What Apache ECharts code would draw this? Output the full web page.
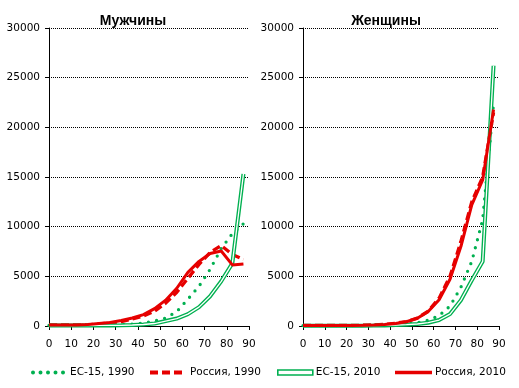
<!DOCTYPE html>
<html>
<head>
<meta charset="utf-8">
<script src="https://cdn.jsdelivr.net/npm/echarts@6/dist/echarts.min.js"></script>
<style>
html,body{margin:0;padding:0;background:#fff;}
#chart{width:519px;height:388px;}
</style>
</head>
<body>
<div id="chart"></div>
<script>
// Age points (midpoints of age groups)
var ages = [0, 2.5, 7.5, 12.5, 17.5, 22.5, 27.5, 32.5, 37.5, 42.5, 47.5, 52.5, 57.5, 62.5, 67.5, 72.5, 77.5, 82.5, 87.5];
// Men
var eu1990M = [60, 60, 60, 60, 60, 80, 90, 120, 180, 300, 500, 800, 1450, 2700, 4000, 5700, 7800, 9300, 10300];
var ru1990M = [100, 100, 100, 100, 120, 200, 300, 450, 700, 1000, 1500, 2300, 3400, 4800, 6200, 7400, 8100, 7200, 6700];
var eu2010M = [50, 50, 50, 50, 50, 60, 60, 70, 100, 150, 250, 500, 750, 1200, 1900, 3000, 4500, 6300, 15300];
var ru2010M = [100, 100, 100, 100, 150, 250, 350, 550, 800, 1150, 1750, 2600, 3800, 5400, 6500, 7300, 7550, 6150, 6250];
// Women
var eu1990F = [40, 40, 40, 40, 40, 40, 40, 60, 90, 140, 220, 330, 580, 1050, 2000, 3900, 6500, 10700, 22400];
var ru1990F = [60, 60, 60, 60, 60, 60, 80, 110, 170, 280, 450, 800, 1500, 2800, 5000, 8500, 12500, 15000, 21500];
var eu2010F = [30, 30, 30, 30, 30, 30, 30, 40, 60, 90, 130, 200, 330, 600, 1200, 2600, 4600, 6500, 26200];
var ru2010F = [60, 60, 60, 60, 60, 60, 80, 110, 160, 260, 430, 780, 1450, 2650, 4700, 8000, 12200, 14700, 21800];

var titles = ['Мужчины', 'Женщины'];
var names = ['ЕС-15, 1990', 'Россия, 1990', 'ЕС-15, 2010', 'Россия, 2010'];
var xTicks = {min: 0, max: 90, interval: 10};
var yTicks = {min: 0, max: 30000, interval: 5000};

var GREEN = '#00b050';
var RED = '#e60000';
var FONT = 'DejaVu Sans';

function pairs(vals) {
  return ages.map(function (a, i) { return [a, vals[i]]; });
}

var panels = [
  {eu90: eu1990M, ru90: ru1990M, eu10: eu2010M, ru10: ru2010M},
  {eu90: eu1990F, ru90: ru1990F, eu10: eu2010F, ru10: ru2010F}
];

var grids = [
  {left: 49, top: 28, width: 200, height: 298},
  {left: 303, top: 28, width: 196, height: 298}
];

var xAxes = [], yAxes = [], series = [];
panels.forEach(function (p, i) {
  xAxes.push({
    type: 'value', gridIndex: i, min: xTicks.min, max: xTicks.max, interval: xTicks.interval,
    axisLine: {onZero: false, lineStyle: {color: '#000', width: 1}},
    axisTick: {show: true, length: 4, lineStyle: {color: '#000'}},
    splitLine: {show: false},
    axisLabel: {color: '#000', fontFamily: FONT, fontSize: 10.5, margin: 13, formatter: function (v) { return String(v); }}
  });
  yAxes.push({
    type: 'value', gridIndex: i, min: yTicks.min, max: yTicks.max, interval: yTicks.interval,
    axisLine: {show: true, lineStyle: {color: '#000', width: 1}},
    axisTick: {show: true, length: 4, lineStyle: {color: '#000'}},
    splitLine: {show: true, lineStyle: {color: '#000', width: 1, type: [1, 1]}},
    axisLabel: {color: '#000', fontFamily: FONT, fontSize: 10.5, margin: 9, formatter: function (v) { return String(v); }}
  });
  var common = {type: 'line', xAxisIndex: i, yAxisIndex: i, symbol: 'none', showSymbol: false, animation: false, silent: true};
  series.push(Object.assign({}, common, {
    name: names[0], data: pairs(p.eu90), z: 2,
    lineStyle: {color: GREEN, width: 3.3, type: [0, 8.3], cap: 'round'}
  }));
  series.push(Object.assign({}, common, {
    name: names[1], data: pairs(p.ru90), z: 3,
    lineStyle: {color: RED, width: 3.3, type: [8, 4]}
  }));
  series.push(Object.assign({}, common, {
    name: names[2], data: pairs(p.eu10), z: 4,
    lineStyle: {color: GREEN, width: 4}
  }));
  series.push(Object.assign({}, common, {
    name: 'inner' + i, data: pairs(p.eu10), z: 5,
    lineStyle: {color: '#fff', width: 1.3}
  }));
  series.push(Object.assign({}, common, {
    name: names[3], data: pairs(p.ru10), z: 6,
    lineStyle: {color: RED, width: 3}
  }));
});

// dotted legend icon: 5 dots, dashed: 3 dashes
var dotPath = 'path://';
[2, 9.5, 17, 24.5, 32].forEach(function (c) {
  dotPath += 'M' + (c - 2) + ',2a2,2 0 1,0 4,0a2,2 0 1,0 -4,0Z';
});
var dashPath = 'path://M0,0h8v4h-8zM12,0h8v4h-8zM24,0h8v4h-8z';
var legendText = {color: '#000', fontFamily: FONT, fontSize: 10.5};
var legends = [
  {data: [names[0]], left: 31, icon: dotPath, itemWidth: 34, itemHeight: 4,
   itemStyle: {color: GREEN, borderWidth: 0}},
  {data: [names[1]], left: 150, icon: dashPath, itemWidth: 32, itemHeight: 4,
   itemStyle: {color: RED, borderWidth: 0}, textStyle: Object.assign({padding: [0, 0, 0, 3]}, legendText)},
  {data: [names[2]], left: 277, icon: 'path://M0,0H35V5H0Z', itemWidth: 35, itemHeight: 5,
   itemStyle: {color: '#fff', borderColor: GREEN, borderWidth: 1.6}, textStyle: Object.assign({padding: [0, 0, 0, -2]}, legendText)},
  {data: [names[3]], left: 395, icon: 'path://M0,0H37V3.4H0Z', itemWidth: 37, itemHeight: 3.4,
   itemStyle: {color: RED, borderWidth: 0}, textStyle: Object.assign({padding: [0, 0, 0, -2]}, legendText)}
].map(function (l) {
  return Object.assign({top: 367, padding: 0, selectedMode: false, textStyle: legendText, itemGap: 0}, l);
});

var chart = echarts.init(document.getElementById('chart'), null, {renderer: 'canvas'});
chart.setOption({
  backgroundColor: '#fff',
  animation: false,
  grid: grids,
  xAxis: xAxes,
  yAxis: yAxes,
  series: series,
  legend: legends,
  graphic: [
    {type: 'text', x: 133, y: 21, z: 10, style: {text: titles[0], fill: '#000', font: 'bold 14px "Liberation Sans"', textAlign: 'center', textVerticalAlign: 'middle'}},
    {type: 'text', x: 386, y: 21, z: 10, style: {text: titles[1], fill: '#000', font: 'bold 14px "Liberation Sans"', textAlign: 'center', textVerticalAlign: 'middle'}},
    {type: 'rect', shape: {x: 255, y: 334, width: 6, height: 20}, z: 100, style: {fill: '#fff'}}
  ]
});
</script>
</body>
</html>
